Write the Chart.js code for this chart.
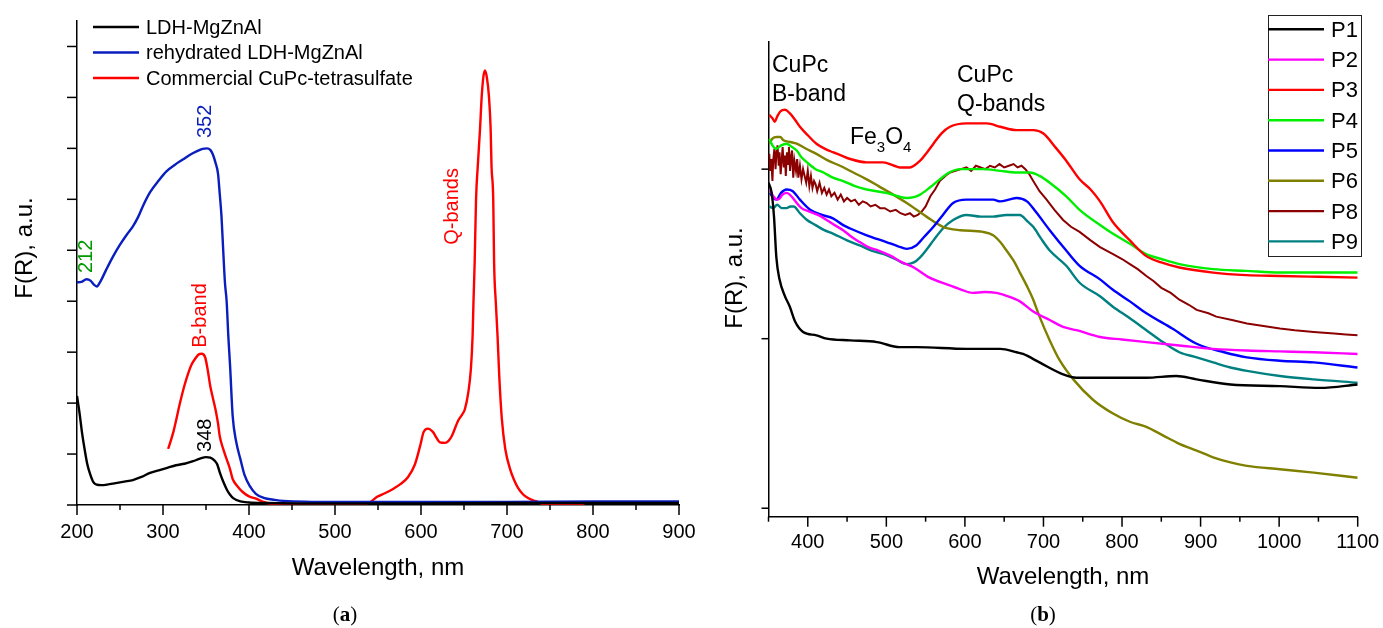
<!DOCTYPE html>
<html><head><meta charset="utf-8">
<script src="https://cdn.jsdelivr.net/npm/chart.js@4.4.1/dist/chart.umd.min.js"></script>
<style>
html,body{margin:0;padding:0;background:#fff;width:1383px;height:628px;overflow:hidden}
#ca{position:absolute;left:0;top:0;width:700px;height:628px}
#cb{position:absolute;left:700px;top:0;width:683px;height:628px}
</style></head><body>
<canvas id="ca" width="700" height="628"></canvas>
<canvas id="cb" width="683" height="628"></canvas>
<script>
// ---------- Panel (a) data ----------
const aLabels = ['LDH-MgZnAl', 'rehydrated LDH-MgZnAl', 'Commercial CuPc-tetrasulfate'];
const ldhX = [200,203,206,209,212,215,219,223,228,235,245,255,265,275,285,295,305,315,325,335,343,350,355,360,363,366,370,374,378,382,390,400,420,500,600,700,800,900];
const ldhY = [2.14,1.80,1.40,1.08,0.80,0.62,0.45,0.40,0.39,0.40,0.43,0.46,0.49,0.55,0.63,0.68,0.73,0.78,0.81,0.86,0.91,0.94,0.93,0.87,0.80,0.64,0.46,0.31,0.20,0.13,0.07,0.05,0.04,0.03,0.03,0.04,0.04,0.04];
const rehX = [200,205,211,216,220,223,227,234,242,250,258,265,271,277,285,295,304,314,323,331,339,346,351,355,358,361,364,366,368,370,372,374,376,378,381,385,390,395,401,408,417,430,440,500,600,700,800,900];
const rehY = [4.37,4.38,4.43,4.40,4.32,4.29,4.38,4.62,4.88,5.11,5.31,5.47,5.65,5.88,6.14,6.37,6.55,6.68,6.78,6.87,6.94,6.99,7.00,6.97,6.88,6.72,6.50,6.10,5.67,5.00,4.37,4.00,3.30,2.73,1.75,1.25,0.90,0.58,0.37,0.22,0.14,0.10,0.08,0.06,0.06,0.06,0.07,0.07];
const cupcX = [306,312,320,325,329,333,337,341,345,349,352,355,358,361,364,366,370,374,378,381,387,393,400,409,415,421,430,450,500,530,538,542,549,558,567,576,585,593,599,603,608,614,618,622,628,632,636,643,648,651,655,658,660,661,662.4,664,666,668.6,670.6,672.5,674.4,676.5,679,681,682,684,685,687,689,691,694,698,703.5,708,713,718,723,729,734.5,742,790];
const cupcY = [1.10,1.43,2.02,2.35,2.57,2.75,2.86,2.95,2.97,2.90,2.65,2.33,2.10,1.88,1.60,1.35,1.10,0.90,0.70,0.51,0.36,0.25,0.17,0.12,0.07,0.04,0.02,0.02,0.02,0.02,0.03,0.07,0.16,0.23,0.31,0.41,0.55,0.80,1.16,1.43,1.50,1.43,1.32,1.23,1.22,1.26,1.36,1.65,1.78,1.88,2.21,2.67,3.32,3.97,4.76,6.00,6.65,7.37,8.02,8.40,8.53,8.40,8.02,7.37,6.65,6.00,4.76,3.97,3.32,2.53,1.69,1.10,0.71,0.50,0.33,0.22,0.15,0.10,0.07,0.02,0.02];
const aColors = ['#000000', '#0a1ebe', '#ff0000'];

// ---------- Panel (b) data ----------
const bLabels = ['P1','P2','P3','P4','P5','P6','P8','P9'];
const p1X = [350,354,357,360,364,371,377,384,394,411,424,454,488,517,539,602,645,666,674,695,725,742,772,831,869,895,938,1001,1052,1100];
const p1Y = [1.92,1.86,1.72,1.48,1.35,1.25,1.19,1.10,1.04,1.02,1.00,0.99,0.98,0.95,0.95,0.94,0.94,0.92,0.91,0.86,0.79,0.77,0.77,0.77,0.78,0.76,0.73,0.72,0.71,0.73];
const p2X = [352,356,362,368,373,377,381,386,392,402,413,424,434,445,456,466,477,490,505,520,535,555,577,595,610,625,640,655,670,687,708,725,742,772,800,831,873,916,959,1001,1044,1100];
const p2Y = [1.88,1.84,1.82,1.85,1.86,1.85,1.83,1.80,1.77,1.75,1.73,1.70,1.67,1.64,1.60,1.57,1.54,1.52,1.49,1.45,1.42,1.36,1.32,1.29,1.27,1.275,1.27,1.25,1.22,1.16,1.11,1.07,1.05,1.01,0.995,0.98,0.96,0.94,0.93,0.925,0.92,0.91];
const p3X = [351,355,358,361,365,371,377,384,390,400,411,422,432,443,454,475,496,510,517,530,543,552,560,570,581,602,628,645,666,687,700,715,729,746,760,772,788,810,830,850,873,916,958,1001,1050,1100];
const p3Y = [2.32,2.30,2.28,2.31,2.34,2.35,2.33,2.29,2.25,2.20,2.15,2.12,2.10,2.08,2.06,2.04,2.04,2.02,2.01,2.01,2.05,2.10,2.15,2.21,2.25,2.27,2.27,2.25,2.23,2.23,2.21,2.13,2.05,1.94,1.88,1.81,1.69,1.58,1.49,1.45,1.42,1.39,1.375,1.37,1.365,1.36];
const p4X = [351,355,360,366,373,380,386,392,399,410,420,432,445,460,475,500,515,526,535,543,555,568,580,594,623,645,666,683,695,708,729,746,772,788,810,830,850,873,916,958,1001,1043,1100];
const p4Y = [2.18,2.14,2.12,2.14,2.15,2.13,2.11,2.07,2.04,2.00,1.98,1.95,1.93,1.90,1.88,1.86,1.84,1.83,1.835,1.85,1.89,1.94,1.98,2.00,2.00,1.99,1.98,1.98,1.96,1.92,1.84,1.76,1.67,1.62,1.56,1.50,1.47,1.44,1.41,1.40,1.39,1.39,1.39];
const p5X = [352,356,360,366,373,381,390,403,418,432,445,454,475,500,515,526,538,548,560,572,585,602,620,636,645,656,666,679,690,708,729,746,772,788,810,831,864,895,930,959,1001,1044,1100];
const p5Y = [1.86,1.83,1.82,1.86,1.88,1.87,1.82,1.76,1.73,1.71,1.67,1.65,1.61,1.57,1.545,1.53,1.55,1.60,1.66,1.73,1.80,1.82,1.82,1.82,1.81,1.82,1.83,1.81,1.75,1.64,1.52,1.43,1.35,1.29,1.22,1.15,1.06,0.97,0.92,0.89,0.87,0.86,0.83];
const p6X = [351,355,360,365,369,378,386,398,411,426,441,458,475,490,505,526,551,572,594,623,636,645,653,662,670,679,687,695,708,721,738,763,788,810,831,852,873,895,916,938,959,1001,1044,1100];
const p6Y = [2.15,2.18,2.19,2.19,2.17,2.16,2.15,2.12,2.09,2.05,2.02,1.98,1.94,1.90,1.86,1.80,1.72,1.66,1.64,1.63,1.61,1.57,1.52,1.46,1.39,1.31,1.23,1.13,0.99,0.87,0.76,0.64,0.56,0.51,0.48,0.43,0.38,0.34,0.30,0.27,0.25,0.23,0.21,0.18];
const p8X = [351,352,353.5,355,356,357.5,359,360,361.5,363,364,365.5,367,368,369.5,371,372,373.5,375,376,377.5,379,380,381.5,383,385,386.5,388,390,392,394,396,398,400,402,404,406,408,410,412,415,418,421,424,427,430,434,438,442,446,450,455,460,465,470,475,480,486,492,498,505,512,518,524,530,535,540,545,550,556,562,568,575,581,588,595,602,608,614,620,626,632,638,644,650,656,662,667,672,677,682,687,695,704,714,725,735,746,760,772,788,800,810,820,831,840,850,862,873,885,895,910,920,940,959,980,1001,1020,1044,1070,1085,1100];
const p8Y = [2.09,1.99,2.06,1.93,2.05,2.12,2.00,2.09,2.14,2.02,2.10,1.97,2.07,2.13,2.01,2.08,1.96,2.10,2.03,2.13,1.99,2.08,2.11,1.95,2.05,1.99,2.06,1.95,2.02,1.94,2.00,1.96,1.92,1.99,1.90,1.96,1.89,1.93,1.91,1.87,1.92,1.86,1.89,1.85,1.88,1.84,1.86,1.82,1.85,1.81,1.83,1.81,1.82,1.79,1.81,1.80,1.78,1.79,1.77,1.77,1.75,1.76,1.74,1.73,1.74,1.72,1.73,1.75,1.78,1.84,1.88,1.93,1.96,1.98,1.99,2.00,2.01,1.99,2.02,2.01,2.00,2.02,2.01,2.03,2.01,2.02,2.03,2.01,2.02,2.00,1.97,1.93,1.87,1.82,1.76,1.70,1.66,1.63,1.58,1.54,1.50,1.47,1.44,1.41,1.37,1.34,1.30,1.27,1.23,1.20,1.17,1.15,1.13,1.11,1.09,1.075,1.06,1.05,1.04,1.03,1.025,1.02];
const p9X = [351,356,361,367,373,378,382,390,399,410,421,432,450,466,481,496,511,526,535,543,552,560,572,585,602,620,636,653,670,680,687,697,708,729,746,772,788,810,831,852,873,895,916,938,959,1001,1044,1100];
const p9Y = [1.78,1.77,1.79,1.77,1.77,1.78,1.78,1.74,1.70,1.67,1.64,1.62,1.58,1.55,1.52,1.50,1.47,1.44,1.45,1.48,1.53,1.58,1.65,1.70,1.73,1.72,1.72,1.73,1.73,1.69,1.66,1.59,1.52,1.43,1.33,1.25,1.19,1.12,1.05,0.98,0.92,0.89,0.86,0.83,0.81,0.78,0.76,0.74];
const bColors = ['#000000','#ff00ff','#ff0000','#00ee00','#0000ff','#808000','#8b0000','#008080'];

const FONT = "'Liberation Sans', Arial, sans-serif";
const SERIF = "'Liberation Serif', 'Times New Roman', serif";
function pts(xs, ys){ return xs.map((x,i)=>({x:x, y:ys[i]})); }

function line(ctx, x1, y1, x2, y2){ ctx.beginPath(); ctx.moveTo(x1,y1); ctx.lineTo(x2,y2); ctx.stroke(); }

function rotText(ctx, text, x, y, color, size){
  ctx.save(); ctx.translate(x, y); ctx.rotate(-Math.PI/2);
  ctx.fillStyle = color; ctx.font = size + 'px ' + FONT;
  ctx.textAlign = 'center'; ctx.textBaseline = 'middle';
  ctx.fillText(text, 0, 0); ctx.restore();
}
function caption(ctx, letter, cx, baseY){
  ctx.save(); ctx.fillStyle = '#000'; ctx.textBaseline = 'alphabetic';
  const fN = '21px ' + SERIF, fB = 'bold 21px ' + SERIF;
  ctx.font = fN; const wp = ctx.measureText('(').width, wq = ctx.measureText(')').width;
  ctx.font = fB; const wl = ctx.measureText(letter).width;
  let x = cx - (wp + wl + wq)/2;
  ctx.textAlign = 'left';
  ctx.font = fN; ctx.fillText('(', x, baseY); x += wp;
  ctx.font = fB; ctx.fillText(letter, x, baseY); x += wl;
  ctx.font = fN; ctx.fillText(')', x, baseY);
  ctx.restore();
}

// ---------- Panel (a) ----------
const decoA = {
  id: 'decoA',
  afterDraw(chart){
    const ctx = chart.ctx, xs = chart.scales.x, ys = chart.scales.y;
    ctx.save();
    ctx.strokeStyle = '#000'; ctx.lineWidth = 1.5;
    for (let v = 200; v <= 900; v += 50){
      const px = xs.getPixelForValue(v);
      line(ctx, px, ys.bottom, px, ys.bottom + (v % 100 === 0 ? 10 : 5));
    }
    for (let v = 0; v <= 9; v++){
      const py = ys.getPixelForValue(v);
      line(ctx, xs.left - 10, py, xs.left, py);
    }
    // legend
    ctx.lineWidth = 2.4;
    const rows = [27, 52.5, 78];
    chart.data.datasets.forEach((ds, i) => {
      ctx.strokeStyle = ds.borderColor;
      line(ctx, 93, rows[i], 139, rows[i]);
      ctx.fillStyle = '#000'; ctx.font = '20px ' + FONT;
      ctx.textAlign = 'left'; ctx.textBaseline = 'middle';
      ctx.fillText(ds.label, 146, rows[i] + 1);
    });
    // annotations (placed in data coordinates)
    const P = (x, y) => [xs.getPixelForValue(x), ys.getPixelForValue(y)];
    let p;
    p = P(210.5, 4.88); rotText(ctx, '212', p[0], p[1], '#009a00', 20);
    p = P(349, 7.53);  rotText(ctx, '352', p[0], p[1], '#0a1ebe', 20);
    p = P(344, 3.72);  rotText(ctx, 'B-band', p[0], p[1], '#ff0000', 20);
    p = P(349, 1.37);  rotText(ctx, '348', p[0], p[1], '#000000', 20);
    p = P(637, 5.86);  rotText(ctx, 'Q-bands', p[0], p[1], '#ff0000', 20);
    // y title
    rotText(ctx, 'F(R), a.u.', 25, 248, '#000', 24);
    caption(ctx, 'a', 345, 621);
    ctx.restore();
  }
};

new Chart(document.getElementById('ca'), {
  type: 'line',
  data: {
    datasets: [
      {label: aLabels[0], data: pts(ldhX, ldhY), borderColor: aColors[0]},
      {label: aLabels[1], data: pts(rehX, rehY), borderColor: aColors[1]},
      {label: aLabels[2], data: pts(cupcX, cupcY), borderColor: aColors[2]}
    ].map(d => Object.assign(d, {borderWidth: 2.4, pointRadius: 0, fill: false, cubicInterpolationMode: 'monotone'}))
  },
  options: {
    responsive: false, animation: false, devicePixelRatio: 1,
    layout: {padding: {left: 0, right: 21, top: 21, bottom: 0}},
    plugins: {legend: {display: false}, tooltip: {enabled: false}},
    scales: {
      x: {
        type: 'linear', min: 200, max: 900,
        afterFit(s){ s.height = 123; s.paddingLeft = 0; s.paddingRight = 0; },
        border: {display: true, color: '#000', width: 1.5},
        grid: {display: false},
        ticks: {stepSize: 50, autoSkip: false, maxRotation: 0, color: '#000', padding: 7,
                font: {family: FONT, size: 20},
                callback: v => (v % 100 === 0 ? String(v) : '')},
        title: {display: true, text: 'Wavelength, nm', color: '#000',
                font: {family: FONT, size: 24}, padding: {top: 0, bottom: 45}}
      },
      y: {
        type: 'linear', min: 0, max: 9.5,
        afterFit(s){ s.width = 77; s.paddingTop = 0; s.paddingBottom = 0; },
        border: {display: true, color: '#000', width: 1.5},
        grid: {display: false},
        ticks: {display: false, stepSize: 1}
      }
    }
  },
  plugins: [decoA]
});

// ---------- Panel (b) ----------
const decoB = {
  id: 'decoB',
  afterDraw(chart){
    const ctx = chart.ctx, xs = chart.scales.x, ys = chart.scales.y;
    ctx.save();
    ctx.strokeStyle = '#000'; ctx.lineWidth = 1.5;
    for (let v = 350; v <= 1100; v += 50){
      const px = xs.getPixelForValue(v);
      line(ctx, px, ys.bottom, px, ys.bottom + (v % 100 === 0 ? 10 : 5));
    }
    for (let v = 0; v <= 2; v++){
      const py = ys.getPixelForValue(v);
      line(ctx, xs.left - 7, py, xs.left, py);
    }
    // legend box
    ctx.fillStyle = '#fff'; ctx.fillRect(568, 15, 93, 241);
    ctx.strokeStyle = '#222'; ctx.lineWidth = 1;
    ctx.strokeRect(568.5, 15.5, 93, 241);
    ctx.lineWidth = 2.4;
    chart.data.datasets.forEach((ds, i) => {
      const y = 29.3 + i * 30.3;
      ctx.strokeStyle = ds.borderColor;
      line(ctx, 568, y, 624, y);
      ctx.fillStyle = '#000'; ctx.font = '22px ' + FONT;
      ctx.textAlign = 'left'; ctx.textBaseline = 'middle';
      ctx.fillText(ds.label, 631, y + 1.5);
    });
    // annotations
    ctx.fillStyle = '#000'; ctx.textAlign = 'left'; ctx.textBaseline = 'alphabetic';
    ctx.font = '23px ' + FONT;
    ctx.fillText('CuPc', 72, 72);
    ctx.fillText('B-band', 72, 100.5);
    ctx.fillText('CuPc', 257, 82);
    ctx.fillText('Q-bands', 257, 110.5);
    let x = 150;
    ctx.fillText('Fe', x, 144); x += ctx.measureText('Fe').width;
    ctx.font = '15px ' + FONT; ctx.fillText('3', x, 152); x += ctx.measureText('3').width;
    ctx.font = '23px ' + FONT; ctx.fillText('O', x, 144); x += ctx.measureText('O').width;
    ctx.font = '15px ' + FONT; ctx.fillText('4', x, 152);
    rotText(ctx, 'F(R), a.u.', 35, 278, '#000', 24);
    caption(ctx, 'b', 343, 621);
    ctx.restore();
  }
};

const bSeries = [[p1X,p1Y],[p2X,p2Y],[p3X,p3Y],[p4X,p4Y],[p5X,p5Y],[p6X,p6Y],[p8X,p8Y],[p9X,p9Y]];
new Chart(document.getElementById('cb'), {
  type: 'line',
  data: {
    datasets: bSeries.map((s, i) => ({
      label: bLabels[i], data: pts(s[0], s[1]), borderColor: bColors[i],
      borderWidth: bLabels[i] === 'P8' ? 2 : 2.4, pointRadius: 0, fill: false,
      cubicInterpolationMode: bLabels[i] === 'P8' ? 'default' : 'monotone',
      tension: 0
    }))
  },
  options: {
    responsive: false, animation: false, devicePixelRatio: 1,
    layout: {padding: {left: 0, right: 25.3, top: 42, bottom: 0}},
    plugins: {legend: {display: false}, tooltip: {enabled: false}},
    scales: {
      x: {
        type: 'linear', min: 350, max: 1100,
        afterFit(s){ s.height = 111.3; s.paddingLeft = 0; s.paddingRight = 0; },
        border: {display: true, color: '#000', width: 1.5},
        grid: {display: false},
        ticks: {stepSize: 50, autoSkip: false, maxRotation: 0, color: '#000', padding: 6,
                font: {family: FONT, size: 20},
                callback: v => (v % 100 === 0 ? String(v) : '')},
        title: {display: true, text: 'Wavelength, nm', color: '#000',
                font: {family: FONT, size: 24}, padding: {top: 0, bottom: 36}}
      },
      y: {
        type: 'linear', min: -0.05, max: 2.75,
        afterFit(s){ s.width = 68.5; s.paddingTop = 0; s.paddingBottom = 0; },
        border: {display: true, color: '#000', width: 1.5},
        grid: {display: false},
        ticks: {display: false, stepSize: 1}
      }
    }
  },
  plugins: [decoB]
});
</script>
</body></html>
